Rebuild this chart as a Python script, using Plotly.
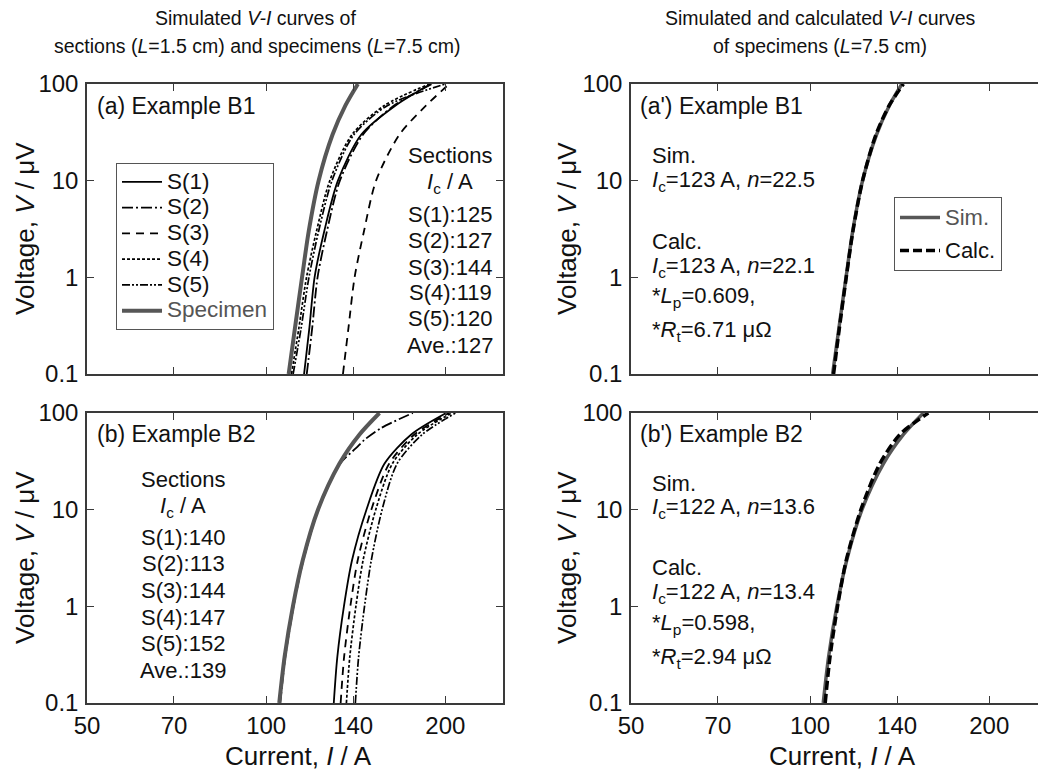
import math
import plotly.graph_objects as go

W, H = 1038, 771

# ---------------- data ----------------
V_LEVELS = [0.1, 0.3, 1, 3, 10, 30, 60, 100]          # voltage, uV

# Example B1: sections (L = 1.5 cm) and specimen (L = 7.5 cm), current in A
b1_s1 = [115.8, 118.2, 120.6, 125.2, 132.0, 144.5, 165.0, 189.0]
b1_s2 = [117.0, 119.5, 122.0, 126.5, 133.0, 145.5, 164.0, 190.0]
b1_s3 = [134.6, 137.5, 140.8, 146.0, 153.0, 167.5, 185.7, 203.0]
b1_s4 = [110.3, 113.5, 116.9, 121.5, 127.9, 139.4, 158.0, 188.0]
b1_s5 = [111.0, 114.5, 118.0, 122.5, 129.0, 140.5, 160.0, 200.0]
b1_spec = [109.1, 111.8, 114.9, 117.9, 122.5, 129.3, 135.9, 142.6]
b1_calc = [109.5, 112.0, 115.0, 118.0, 122.5, 129.0, 135.8, 143.5]

# Example B2
b2_s1 = [129.9, 131.7, 135.1, 139.4, 147.4, 158.1, 175.3, 200.7]
b2_s2_v = [0.1, 0.3, 1, 3, 10, 30, 43.5, 53, 70, 100]
b2_s2 = [105.6, 107.7, 111.2, 115.5, 122.4, 133.2, 141.7, 146.4, 156.1, 176.4]
b2_s3 = [133.4, 135.2, 138.5, 142.5, 150.2, 161.0, 177.5, 203.0]
b2_s4 = [136.4, 138.2, 141.5, 145.5, 152.8, 163.0, 179.5, 205.0]
b2_s5 = [141.2, 143.0, 146.3, 150.2, 156.6, 166.0, 183.0, 208.0]
b2_spec = [105.2, 107.4, 110.9, 115.2, 122.2, 132.8, 143.5, 155.0]
b2_calc_v = [0.1, 0.3, 1, 3, 10, 30, 60, 85, 100]
b2_calc = [106.0, 108.0, 111.2, 115.0, 121.7, 131.0, 141.5, 152.0, 158.0]

X_TICKS = [50, 70, 100, 140, 200]
Y_TICKS = [0.1, 1, 10, 100]
Y_TICK_TEXT = ["0.1", "1", "10", "100"]

b1_sections = ["S(1):125", "S(2):127", "S(3):144", "S(4):119", "S(5):120", "Ave.:127"]
b2_sections = ["S(1):140", "S(2):113", "S(3):144", "S(4):147", "S(5):152", "Ave.:139"]

# ---------------- styling ----------------
FONT = "Liberation Sans, Arial, Helvetica, sans-serif"
TXT = "#111111"
GRAY = "#575757"
AX = "#3a3a3a"

def px(x):
    return x / W

def py(y):
    return 1 - y / H

LEFT_X = [px(87), px(503)]
RIGHT_X = [px(631), 1.0]
TOP_Y = [py(374), py(84)]
BOT_Y = [py(703), py(413)]

fig = go.Figure()

def big(s, size=22.5, color=None):
    st = f"font-size:{size}px"
    if color:
        st += f";color:{color}"
    return f"<span style='{st}'>{s}</span>"

sec_styles = [
    dict(name="S(1)", dash="solid", width=1.8),
    dict(name="S(2)", dash="11px,3px,2px,3px", width=1.8),
    dict(name="S(3)", dash="8px,6px", width=1.8),
    dict(name="S(4)", dash="3px,2px", width=1.7),
    dict(name="S(5)", dash="8px,2px,2px,2px,2px,2px", width=1.7),
]

def add_sections(curves, xa, ya, show):
    for (vv, ii), st in zip(curves, sec_styles):
        fig.add_trace(go.Scatter(
            x=ii, y=vv, mode="lines", xaxis=xa, yaxis=ya,
            name=big(st["name"]), showlegend=show, legend="legend",
            line=dict(color="black", width=st["width"], dash=st["dash"],
                      shape="spline", smoothing=0.8),
            hoverinfo="skip"))

# (a) Example B1
add_sections([(V_LEVELS, b1_s1), (V_LEVELS, b1_s2), (V_LEVELS, b1_s3),
              (V_LEVELS, b1_s4), (V_LEVELS, b1_s5)], "x", "y", True)
fig.add_trace(go.Scatter(x=b1_spec, y=V_LEVELS, mode="lines", xaxis="x", yaxis="y",
                         name=big("Specimen", color="#555555"),
                         legend="legend",
                         line=dict(color=GRAY, width=4, shape="spline", smoothing=0.8)))

# (b) Example B2
add_sections([(V_LEVELS, b2_s1), (b2_s2_v, b2_s2), (V_LEVELS, b2_s3),
              (V_LEVELS, b2_s4), (V_LEVELS, b2_s5)], "x3", "y3", False)
fig.add_trace(go.Scatter(x=b2_spec, y=V_LEVELS, mode="lines", xaxis="x3", yaxis="y3",
                         showlegend=False,
                         line=dict(color=GRAY, width=4, shape="spline", smoothing=0.8)))

# (a') Example B1 sim / calc
fig.add_trace(go.Scatter(x=b1_spec, y=V_LEVELS, mode="lines", xaxis="x2", yaxis="y2",
                         name=big("Sim.", 22, "#555555"),
                         legend="legend2", legendgroup="sim",
                         line=dict(color=GRAY, width=3.5, shape="spline", smoothing=0.8)))
fig.add_trace(go.Scatter(x=b1_calc, y=V_LEVELS, mode="lines", xaxis="x2", yaxis="y2",
                         name=big("Calc.", 22), legend="legend2", legendgroup="calc",
                         line=dict(color="black", width=3.5, dash="9px,4px",
                                   shape="spline", smoothing=0.8)))

# (b') Example B2 sim / calc
fig.add_trace(go.Scatter(x=b2_spec, y=V_LEVELS, mode="lines", xaxis="x4", yaxis="y4",
                         showlegend=False,
                         line=dict(color=GRAY, width=3.5, shape="spline", smoothing=0.8)))
fig.add_trace(go.Scatter(x=b2_calc, y=b2_calc_v, mode="lines", xaxis="x4", yaxis="y4",
                         showlegend=False,
                         line=dict(color="black", width=3.5, dash="9px,4px",
                                   shape="spline", smoothing=0.8)))

def xaxis(domain, anchor, right_end, labels):
    return dict(domain=domain, anchor=anchor, type="log", automargin=False,
                range=[math.log10(50), math.log10(right_end)],
                tickvals=X_TICKS, ticktext=[str(t) for t in X_TICKS],
                showticklabels=labels, ticks="inside", ticklen=7, tickwidth=1.2,
                tickcolor=AX, showline=True, linecolor=AX, linewidth=1.5,
                mirror="ticks", showgrid=False, zeroline=False,
                ticklabelstandoff=0,
                tickfont=dict(family=FONT, size=24, color=TXT))

def yaxis(domain, anchor, mirror):
    return dict(domain=domain, anchor=anchor, type="log", range=[-1, 2],
                automargin=False,
                tickvals=Y_TICKS, ticktext=Y_TICK_TEXT, ticks="inside",
                ticklen=7, tickwidth=1.2, tickcolor=AX, showline=True,
                linecolor=AX, linewidth=1.5, mirror=mirror, showgrid=False,
                zeroline=False, ticklabelstandoff=2,
                tickfont=dict(family=FONT, size=24, color=TXT))

fig.update_layout(
    template="none",
    width=W, height=H, margin=dict(l=0, r=0, t=0, b=0, pad=0, autoexpand=False),
    paper_bgcolor="white", plot_bgcolor="white",
    font=dict(family=FONT, color=TXT, size=20),
    xaxis=xaxis(LEFT_X, "y", 250, False),
    yaxis=yaxis(TOP_Y, "x", "ticks"),
    xaxis2=xaxis(RIGHT_X, "y2", 241.5, False),
    yaxis2=yaxis(TOP_Y, "x2", False),
    xaxis3=xaxis(LEFT_X, "y3", 250, True),
    yaxis3=yaxis(BOT_Y, "x3", "ticks"),
    xaxis4=xaxis(RIGHT_X, "y4", 241.5, True),
    yaxis4=yaxis(BOT_Y, "x4", False),
    legend=dict(x=px(116), y=py(163), xanchor="left", yanchor="top",
                bgcolor="white", bordercolor="#555555", borderwidth=1,
                font=dict(family=FONT, size=17.5, color=TXT), itemwidth=40,
                tracegroupgap=0),
    legend2=dict(x=px(894), y=py(197), xanchor="left", yanchor="top",
                 bgcolor="white", bordercolor="#555555", borderwidth=1,
                 font=dict(family=FONT, size=20, color=TXT), itemwidth=40,
                 tracegroupgap=4),
    showlegend=True,
)

ann = []

def text(x, y, s, size=21, xanchor="left", align="left", angle=0):
    ann.append(dict(x=px(x), y=py(y), xref="paper", yref="paper", text=s,
                    showarrow=False, xanchor=xanchor, yanchor="middle",
                    align=align, textangle=angle,
                    font=dict(family=FONT, size=size, color=TXT)))

# column titles
text(255, 18, "Simulated <i>V-I</i> curves of", size=19.5, xanchor="center", align="center")
text(257, 46, "sections (<i>L</i>=1.5 cm) and specimens (<i>L</i>=7.5 cm)",
     size=19.5, xanchor="center", align="center")
text(820, 18, "Simulated and calculated <i>V-I</i> curves", size=19.5,
     xanchor="center", align="center")
text(820, 46, "of specimens (<i>L</i>=7.5 cm)", size=19.5,
     xanchor="center", align="center")

# panel labels
text(95, 106, "(a) Example B1", size=23)
text(95, 434, "(b) Example B2", size=23)
text(638, 106, "(a') Example B1", size=23)
text(638, 434, "(b') Example B2", size=23)

# section lists
IC_A = "<i>I</i><sub>c</sub> / A"
sec_a = ["Sections", IC_A] + b1_sections
ys_a = [156, 183, 214, 240, 267, 292, 318, 345]
for s, y in zip(sec_a, ys_a):
    text(450, y, s, size=22, xanchor="center", align="center")
sec_b = ["Sections", IC_A] + b2_sections
ys_b = [479, 507, 537, 563, 590, 617, 643, 670]
for s, y in zip(sec_b, ys_b):
    text(183, y, s, size=22, xanchor="center", align="center")

# sim / calc parameters
def params(ic, n_sim, n_calc, lp, rt, ys):
    lines = ["Sim.",
             f"<i>I</i><sub>c</sub>={ic} A, <i>n</i>={n_sim}",
             "Calc.",
             f"<i>I</i><sub>c</sub>={ic} A, <i>n</i>={n_calc}",
             f"*<i>L</i><sub>p</sub>={lp},",
             f"*<i>R</i><sub>t</sub>={rt} μΩ"]
    for s, y in zip(lines, ys):
        text(650, y, s, size=22)

params(123, "22.5", "22.1", "0.609", "6.71", [156, 181, 241, 267, 297, 331])
params(122, "13.6", "13.4", "0.598", "2.94", [483, 508, 567, 593, 624, 658])

# axis titles
YLAB = "Voltage, <i>V</i> / μV"
XLAB = "Current, <i>I</i> / A"
for xx in (25, 567):
    text(xx, 229, YLAB, size=26, xanchor="center", align="center", angle=-90)
    text(xx, 558, YLAB, size=26, xanchor="center", align="center", angle=-90)
text(298, 756, XLAB, size=26, xanchor="center", align="center")
text(842, 756, XLAB, size=26, xanchor="center", align="center")

fig.update_layout(annotations=ann)

fig.write_html("out.html")
